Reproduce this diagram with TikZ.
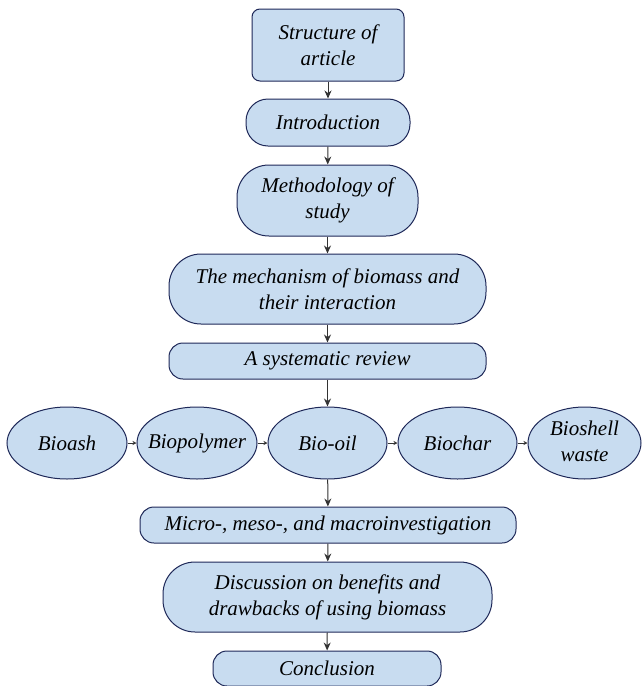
\documentclass[tikz,border=0pt]{standalone}
\usepackage{fontspec}
\setmainfont{Liberation Serif}
\usetikzlibrary{shapes.geometric,arrows.meta}
\definecolor{boxfill}{HTML}{C8DCF0}
\definecolor{boxline}{HTML}{1E2858}
\definecolor{arrowc}{HTML}{333333}
\begin{document}
\begin{tikzpicture}[x=1pt,y=-1pt,
  txt/.style={font=\fontsize{21}{26}\selectfont\itshape, align=center, text=black},
  rbox/.style={txt, draw=boxline, fill=boxfill, line width=1pt, inner sep=0pt, rectangle},
  ebox/.style={txt, draw=boxline, fill=boxfill, line width=1pt, inner sep=0pt, ellipse},
  varrow/.style={draw=arrowc, line width=1pt, -{Stealth[length=8pt,width=7pt]}},
  harrow/.style={draw=arrowc, line width=0.8pt, -{Stealth[length=4pt,width=4pt]}}]
\useasboundingbox (0,0) rectangle (642,686);
\node[rbox, minimum width=152, minimum height=72, rounded corners=8] (s) at (328,45) {Structure of\\article};
\node[rbox, minimum width=164, minimum height=47, rounded corners=22] (i) at (328,122.5) {Introduction};
\node[rbox, minimum width=181, minimum height=71, rounded corners=32] (m) at (327.5,200.5) {Methodology of\\study};
\node[rbox, minimum width=317, minimum height=70, rounded corners=32] (mech) at (327.5,289) {The mechanism of biomass and\\their interaction};
\node[rbox, minimum width=317, minimum height=36, rounded corners=14] (sys) at (327.5,361) {A systematic review};
\node[ebox, minimum width=120, minimum height=72] (ash) at (67,443) {\makebox[0pt]{Bioash}};
\node[ebox, minimum width=120, minimum height=72] (poly) at (197,443) {\makebox[0pt]{Biopolymer}};
\node[ebox, minimum width=119, minimum height=72] (oil) at (327.5,443) {\makebox[0pt]{Bio-oil}};
\node[ebox, minimum width=119, minimum height=72] (char) at (457.5,443) {\makebox[0pt]{Biochar}};
\node[ebox, minimum width=113, minimum height=72, inner ysep=-6pt] (shell) at (584.5,443) {\makebox[0pt]{\begin{tabular}{@{}c@{}}Bioshell\\waste\end{tabular}}};
\node[rbox, minimum width=376, minimum height=36, rounded corners=14] (micro) at (328,525) {Micro-, meso-, and macroinvestigation};
\node[rbox, minimum width=329, minimum height=70, rounded corners=32] (disc) at (327.5,597) {Discussion on benefits and\\drawbacks of using biomass};
\node[rbox, minimum width=228, minimum height=35, rounded corners=14] (conc) at (327,668.5) {Conclusion};
\draw[varrow] (s) -- (i);
\draw[varrow] (i) -- (m);
\draw[varrow] (m) -- (mech);
\draw[varrow] (mech) -- (sys);
\draw[varrow] (sys) -- (oil);
\draw[varrow] (oil) -- (micro);
\draw[varrow] (micro) -- (disc);
\draw[varrow] (disc) -- (conc);
\draw[harrow] (ash) -- (poly);
\draw[harrow] (poly) -- (oil);
\draw[harrow] (oil) -- (char);
\draw[harrow] (char) -- (shell);
\end{tikzpicture}
\end{document}
